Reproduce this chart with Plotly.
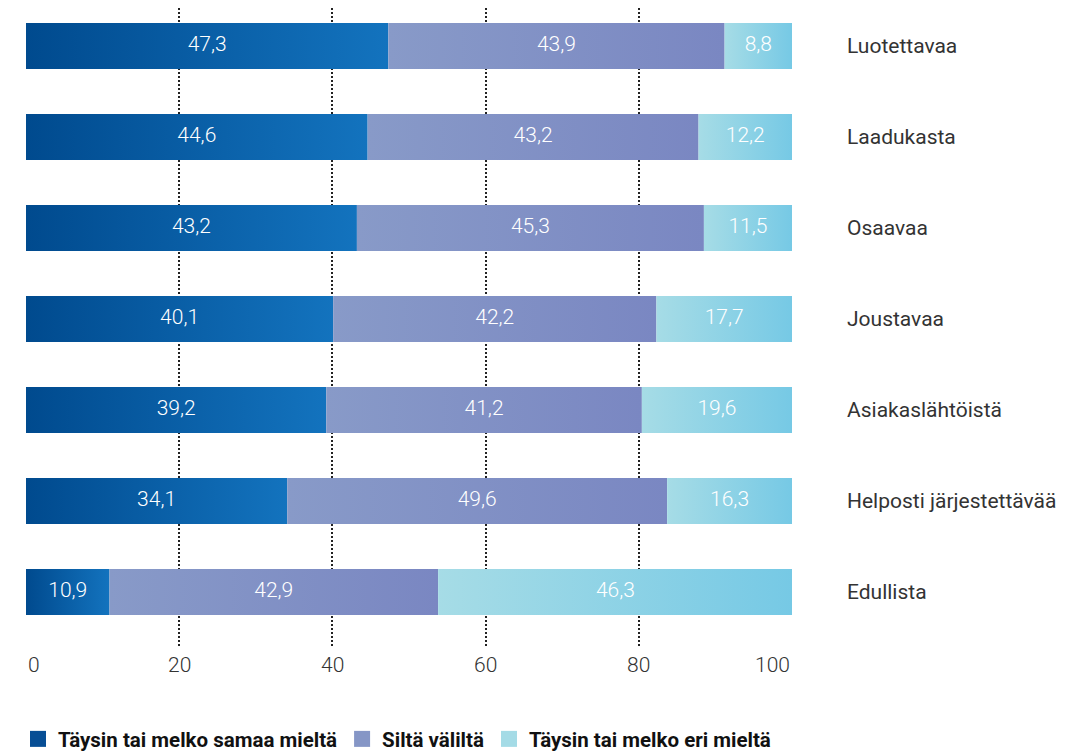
import plotly.graph_objects as go

categories = ["Luotettavaa", "Laadukasta", "Osaavaa", "Joustavaa",
              "Asiakaslähtöistä", "Helposti järjestettävää", "Edullista"]
agree = [47.3, 44.6, 43.2, 40.1, 39.2, 34.1, 10.9]
neutral = [43.9, 43.2, 45.3, 42.2, 41.2, 49.6, 42.9]
disagree = [8.8, 12.2, 11.5, 17.7, 19.6, 16.3, 46.3]
series_names = ["Täysin tai melko samaa mieltä", "Siltä väliltä", "Täysin tai melko eri mieltä"]
x_ticks = [0, 20, 40, 60, 80, 100]

series = [agree, neutral, disagree]
grad = [("#004a8e", "#1373be"), ("#889ac8", "#7a87c2"), ("#a6dce6", "#76c9e5")]
legend_col = ["#074e95", "#8596c6", "#a4dbe6"]

half = 0.253
fig = go.Figure()

for i, cat in enumerate(categories):
    left = 0.0
    for s, vals in enumerate(series):
        v = vals[i]
        x0, x1 = left, left + v
        fig.add_trace(go.Scatter(
            x=[x0, x1, x1, x0, x0], y=[i - half, i - half, i + half, i + half, i - half],
            mode="none", fill="toself", fillcolor=grad[s][0],
            fillgradient=dict(type="horizontal",
                              colorscale=[[0, grad[s][0]], [1, grad[s][1]]]),
            showlegend=False, hoverinfo="skip"))
        left = x1

# labels
for s, vals in enumerate(series):
    xs, ys, txt = [], [], []
    for i in range(len(categories)):
        base = sum(series[k][i] for k in range(s))
        xs.append(base + vals[i] / 2)
        ys.append(i)
        txt.append(f"{vals[i]:.1f}".replace(".", ","))
    fig.add_trace(go.Scatter(x=xs, y=ys, mode="text", text=txt,
                             textfont=dict(family="Roboto", size=21, color="white", weight=300),
                             showlegend=False, hoverinfo="skip"))

# legend entries
for s, name in enumerate(series_names):
    fig.add_trace(go.Scatter(x=[None], y=[None], mode="markers", name=name,
                             marker=dict(symbol="square", size=16, color=legend_col[s])))

for t in x_ticks:
    anchor = "left" if t == x_ticks[0] else ("right" if t == x_ticks[-1] else "center")
    fig.add_annotation(x=t, xref="x", y=0, yref="paper", yanchor="top", yshift=-3,
                       xanchor=anchor, text=str(t), showarrow=False,
                       font=dict(family="Roboto", size=21, color="#333333", weight=300))

fig.update_layout(
    width=1064, height=743,
    margin=dict(l=18, r=280, t=0, b=103),
    paper_bgcolor="white", plot_bgcolor="white",
    font=dict(family="Roboto", color="#333333"),
    xaxis=dict(range=[0, 100], tickvals=x_ticks[1:-1], showticklabels=False,
               showgrid=True, gridcolor="#222222", gridwidth=2, griddash="2px,2px",
               zeroline=False, showline=False, fixedrange=True),
    yaxis=dict(range=[6.615, -0.418], tickvals=list(range(len(categories))),
               ticktext=categories, side="right", showgrid=False, zeroline=False,
               showline=False, ticks="", ticklabelstandoff=54,
               tickfont=dict(family="Roboto", size=21, color="#333333")),
    legend=dict(orientation="h", xref="container", x=0.0094, xanchor="left",
                yref="container", y=0.043, yanchor="top",
                font=dict(family="Roboto", size=20.5, color="#111111", weight=700),
                itemsizing="trace", tracegroupgap=0, itemwidth=30),
    showlegend=True,
)

fig.write_html("out.html")
